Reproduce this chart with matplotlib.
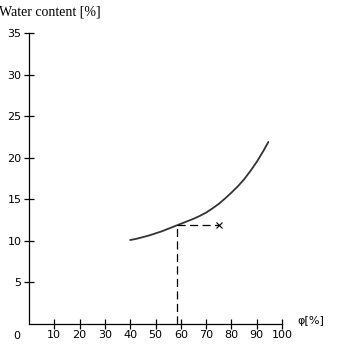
import matplotlib.pyplot as plt

# sorption curve: water content vs relative humidity
phi = [40, 42.5, 45, 47.5, 50, 52.5, 55, 57.5, 60, 62.5, 65, 67.5, 70,
       72.5, 75, 77.5, 80, 82.5, 85, 87.5, 90, 92.5, 94.6]
water = [10.1, 10.25, 10.45, 10.65, 10.9, 11.15, 11.45, 11.75, 12.05, 12.35,
         12.65, 13.0, 13.4, 13.9, 14.45, 15.1, 15.8, 16.55, 17.4, 18.4, 19.5,
         20.75, 21.9]

# reading off the curve at a given humidity
phi_read = 58.4
water_read = 11.9
phi_mark = 75

xticks = [10, 20, 30, 40, 50, 60, 70, 80, 90, 100]
yticks = [5, 10, 15, 20, 25, 30, 35]

fig = plt.figure(figsize=(3.39, 3.5), dpi=100)
ax = fig.add_axes([0.0855, 0.0743, 0.7465, 0.8314])

ax.plot(phi, water, color='#333333', lw=1.3, solid_capstyle='round',
        solid_joinstyle='round')
ax.plot([phi_read, phi_read], [0, water_read], color='black', lw=0.9, dashes=(6.5, 3.5))
ax.plot([phi_read, phi_mark], [water_read, water_read], color='black', lw=0.9, dashes=(6.5, 3.5))
ax.plot([phi_mark], [water_read], marker='x', color='black', ms=5, mew=0.8)

ax.set_xlim(0, 100)
ax.set_ylim(0, 35)
for s in ['top', 'right']:
    ax.spines[s].set_visible(False)
for s in ['left', 'bottom']:
    ax.spines[s].set_linewidth(0.9)

ax.set_xticks(xticks)
ax.set_yticks(yticks)
ax.tick_params(direction='inout', length=7, width=0.9, labelsize=8, pad=2)
ax.tick_params(axis='x', pad=1)
for lab in ax.get_xticklabels() + ax.get_yticklabels():
    lab.set_family('DejaVu Sans')

ax.text(-3.5, -0.9, '0', ha='right', va='top', fontsize=8, family='DejaVu Sans')
ax.text(106, 0.4, 'φ[%]', ha='left', va='center', fontsize=8, family='DejaVu Sans',
        clip_on=False)
fig.text(-0.003, 1 - 12 / 350, 'Water content [%]', ha='left', va='center',
         fontsize=10, family='Liberation Serif')

fig.savefig('out.png', dpi=100)
